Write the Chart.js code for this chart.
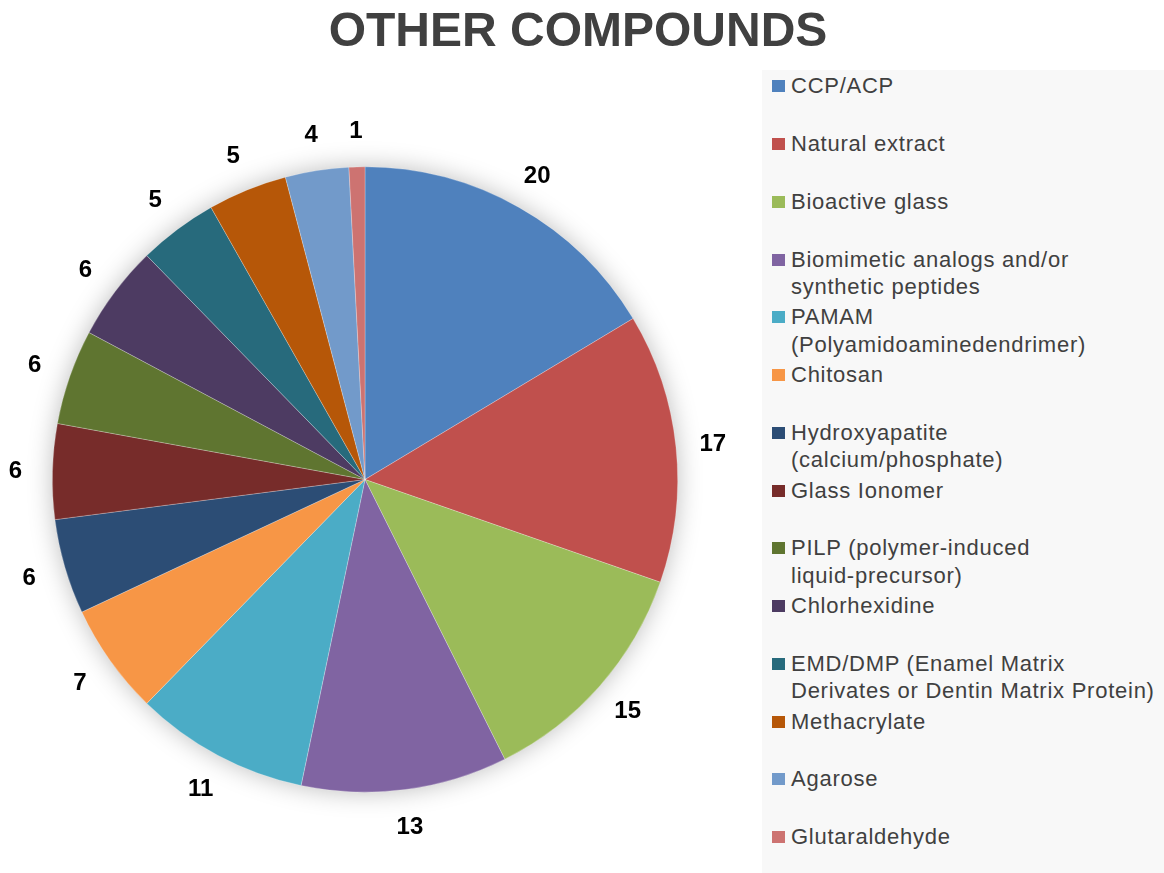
<!DOCTYPE html>
<html>
<head>
<meta charset="utf-8">
<script src="https://cdn.jsdelivr.net/npm/chart.js@4.4.1/dist/chart.umd.min.js"></script>
<style>
  html, body { margin: 0; padding: 0; background: #ffffff; }
  #wrap { position: relative; width: 1164px; height: 873px; overflow: hidden; font-family: "Liberation Sans", Arial, sans-serif; }
  #title { position: absolute; left: 0; top: 0; width: 1156px; text-align: center; font-weight: bold; font-size: 48px; line-height: 60px; color: #404040; }
  #legend { position: absolute; left: 762px; top: 70px; width: 402px; height: 803px; background: #f8f8f8; }
  .item { position: absolute; left: 10px; font-size: 22px; letter-spacing: 0.75px; line-height: 27.5px; color: #404040; }
  .sw { position: absolute; left: 0; top: 8px; width: 13px; height: 12px; }
  .txt { position: absolute; left: 19px; white-space: nowrap; }
  canvas { position: absolute; left: 0; top: 0; }
</style>
</head>
<body>
<div id="wrap">
  <canvas id="c" width="1164" height="873"></canvas>
  <div id="title">OTHER COMPOUNDS</div>
  <div id="legend"></div>
</div>
<script>
const categories = [
  "CCP/ACP",
  "Natural extract",
  "Bioactive glass",
  ["Biomimetic analogs and/or", "synthetic peptides"],
  ["PAMAM", "(Polyamidoaminedendrimer)"],
  "Chitosan",
  ["Hydroxyapatite", "(calcium/phosphate)"],
  "Glass Ionomer",
  ["PILP (polymer-induced", "liquid-precursor)"],
  "Chlorhexidine",
  ["EMD/DMP (Enamel Matrix", "Derivates or Dentin Matrix Protein)"],
  "Methacrylate",
  "Agarose",
  "Glutaraldehyde"
];
const counts = [20, 17, 15, 13, 11, 7, 6, 6, 6, 6, 5, 5, 4, 1];
const colors = ["#4F81BD", "#C0504D", "#9BBB59", "#8064A2", "#4BACC6", "#F79646", "#2C4D75",
                "#772C2A", "#5F7530", "#4D3B62", "#276A7C", "#B65708", "#729ACA", "#CD7371"];

// HTML legend
const legend = document.getElementById('legend');
categories.forEach((lab, i) => {
  const it = document.createElement('div');
  it.className = 'item';
  it.style.top = (2.25 + i * 57.75) + 'px';
  const sw = document.createElement('div');
  sw.className = 'sw';
  sw.style.background = colors[i];
  const tx = document.createElement('div');
  tx.className = 'txt';
  const lines = Array.isArray(lab) ? lab : [lab];
  lines.forEach((l, k) => {
    if (k) tx.appendChild(document.createElement('br'));
    tx.appendChild(document.createTextNode(l));
  });
  it.appendChild(sw);
  it.appendChild(tx);
  legend.appendChild(it);
});

const shadowPlugin = {
  id: 'pieShadow',
  beforeDatasetsDraw(chart) {
    const arc = chart.getDatasetMeta(0).data[0];
    if (!arc) return;
    const ctx = chart.ctx;
    ctx.save();
    ctx.shadowColor = 'rgba(0,0,0,0.28)';
    ctx.shadowBlur = 26;
    ctx.fillStyle = '#ffffff';
    ctx.beginPath();
    ctx.arc(arc.x, arc.y, arc.outerRadius - 1, 0, Math.PI * 2);
    ctx.fill();
    ctx.restore();
  }
};

const labelPlugin = {
  id: 'outLabels',
  afterDatasetsDraw(chart) {
    const ctx = chart.ctx;
    const meta = chart.getDatasetMeta(0);
    const vals = chart.data.datasets[0].data;
    ctx.save();
    ctx.font = 'bold 24px "Liberation Sans", Arial, sans-serif';
    ctx.fillStyle = '#000000';
    ctx.textAlign = 'center';
    ctx.textBaseline = 'middle';
    meta.data.forEach((a, i) => {
      const mid = (a.startAngle + a.endAngle) / 2;
      const r = a.outerRadius + 37;
      ctx.fillText(String(vals[i]), a.x + r * Math.cos(mid), a.y + 1 + r * Math.sin(mid));
    });
    ctx.restore();
  }
};

new Chart(document.getElementById('c'), {
  type: 'pie',
  data: {
    labels: categories,
    datasets: [{
      data: counts,
      backgroundColor: colors,
      borderColor: 'rgba(255,255,255,0.35)',
      borderWidth: 0.7
    }]
  },
  options: {
    responsive: false,
    animation: false,
    layout: { padding: { left: 52, right: 486, top: 166, bottom: 80 } },
    plugins: {
      legend: { display: false },
      tooltip: { enabled: false },
      title: { display: false }
    }
  },
  plugins: [shadowPlugin, labelPlugin]
});
</script>
</body>
</html>
